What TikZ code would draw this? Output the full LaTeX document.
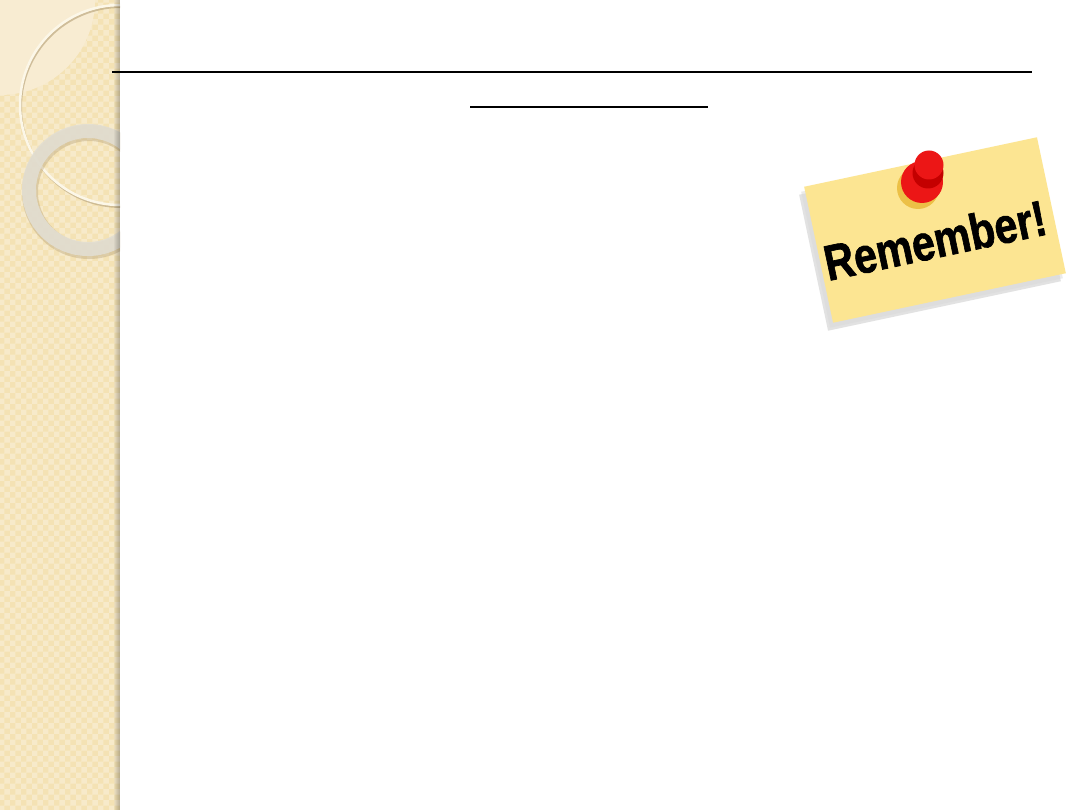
\documentclass[tikz,border=0pt]{standalone}
\usepackage{fontspec}
\setmainfont{Liberation Sans}
\newfontfamily\notefont[FakeBold=1.5]{Liberation Sans Bold}
\usetikzlibrary{patterns}
\definecolor{stripbg}{RGB}{244,226,180}
\definecolor{stripfade}{RGB}{248,236,210}
\definecolor{ringcream}{RGB}{252,247,232}
\definecolor{ringshade}{RGB}{190,170,130}
\definecolor{ringgrey}{RGB}{226,222,210}
\definecolor{notey}{RGB}{252,229,146}
\definecolor{pinred}{RGB}{236,22,22}
\definecolor{pindark}{RGB}{196,0,0}
\definecolor{pinshadow}{RGB}{236,192,70}

\begin{document}
\begin{tikzpicture}[x=1pt,y=-1pt,
  ring/.style={draw=ringgrey,line width=14pt,opacity=0.9},
  rule/.style={line width=2pt},
  note/.style={rotate=12,minimum width=238pt,minimum height=139pt,inner sep=0pt}]
\useasboundingbox (0,0) rectangle (1080,810);
\fill[white] (0,0) rectangle (1080,810);
\begin{scope}
\clip (0,0) rectangle (120,810);
\fill[stripbg] (0,0) rectangle (120,810);
\fill[pattern=checkerboard, pattern color=white, opacity=0.3] (0,0) rectangle (120,810);
\fill[stripfade] (0,0) circle (95);
\draw[ringshade, line width=2pt, opacity=0.7] (121,107) circle (100);
\draw[ringcream, line width=2.5pt] (120,105) circle (100);
\draw[ringshade, line width=16pt, opacity=0.45] (89,192) circle (59);
\draw[ring] (88,190) circle (59);
\foreach \k in {1,...,6}{
	\fill[black,opacity=0.04] (113+\k,0) rectangle (120,810);
	}
\end{scope}
\draw[rule] (112,72) -- (1032,72);
\draw[rule] (470,107) -- (708,107);
\node[note, fill=gray!45, opacity=0.5] (noteshadow) at (930,238) {};
\node[note, fill=gray!30, opacity=0.5] at (932,235) {};
\node[note, fill=notey] (note) at (935,230) {};
\fill[pinshadow] (918,188) circle (21);
\fill[pinred] (922,182) circle (21);
\fill[pindark] (928,173) circle (15.5);
\fill[pinred] (929,165) circle (14.5);
\node[rotate=12, font=\notefont\fontsize{50}{50}\selectfont] (remember) at (935,240) {\scalebox{0.82}[1]{Remember!}};
\end{tikzpicture}
\end{document}
